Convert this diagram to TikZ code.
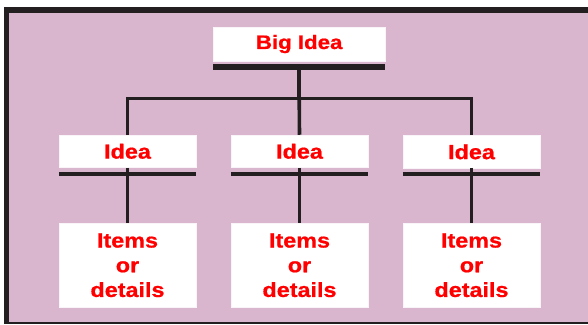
\documentclass[tikz,border=0pt]{standalone}
\usepackage{fontspec}
\newfontfamily\boxfont[FakeStretch=1.14,BoldFeatures={FakeBold=0.8}]{Liberation Sans}
\definecolor{bgpink}{RGB}{217,182,206}
\definecolor{frameblk}{RGB}{35,31,32}
\definecolor{txtred}{RGB}{255,0,0}
\tikzset{
  wbox/.style={fill=white, draw=white!85!bgpink, line width=0.4pt, inner sep=0pt, align=center,
    text=txtred, font=\boxfont\bfseries\fontsize{20.5}{24.7}\selectfont},
  bigbox/.style={wbox, minimum width=171.7pt, minimum height=33.4pt,
    font=\boxfont\bfseries\fontsize{19.5}{23}\selectfont},
  ideabox/.style={wbox, minimum width=137pt, minimum height=32.7pt},
  itembox/.style={wbox, minimum width=137pt, minimum height=84pt},
  conn/.style={draw=frameblk, line width=3.6pt},
  bigbar/.style={draw=frameblk, line width=6pt},
  ideabar/.style={draw=frameblk, line width=3.8pt},
}
\begin{document}
\begin{tikzpicture}[x=1pt,y=-1pt]
\useasboundingbox (0,0) rectangle (588,324);
\fill[white] (0,0) rectangle (588,324);
% frame
\fill[bgpink] (6.5,10) rectangle (588,322);
\draw[frameblk, line width=5.4pt] (4,10) -- (588,10);
\draw[frameblk, line width=5pt] (6.5,7.3) -- (6.5,324);
\draw[frameblk, line width=2pt] (6.5,322.5) -- (588,322.5);
% nodes
\node[bigbox] (big) at (299.2,44) {Big Idea};
\node[ideabox] (i1) at (127.5,151.3) {Idea};
\node[ideabox] (i2) at (299.5,151.3) {Idea};
\node[ideabox] (i3) at (471.5,151.8) {Idea};
\node[itembox] (d1) at (127.5,265.3) {Items\\or\\details};
\node[itembox] (d2) at (299.5,265.3) {Items\\or\\details};
\node[itembox] (d3) at (471.5,265.3) {Items\\or\\details};
\coordinate (hub) at (299.2,98.3);
% connectors
\draw[conn] ([yshift=-5pt]big.south) -- (hub);
\draw[conn] (i1.north) |- (hub) -| (i3.north);
\draw[conn] (hub) -- (i2.north);
\draw[conn] (i1.south) -- (d1.north);
\draw[conn] (i2.south) -- (d2.north);
\draw[conn] ([yshift=0.5pt]i3.south) -- (d3.north);
% bars
\draw[bigbar] ([yshift=-6.3pt]big.south west) -- ([yshift=-6.3pt]big.south east);
\draw[ideabar] ([yshift=-6.5pt]i1.south west) -- ([yshift=-6.5pt]i1.south east);
\draw[ideabar] ([yshift=-6.5pt]i2.south west) -- ([yshift=-6.5pt]i2.south east);
\draw[ideabar] ([yshift=-6pt]i3.south west) -- ([yshift=-6pt]i3.south east);
\end{tikzpicture}
\end{document}
